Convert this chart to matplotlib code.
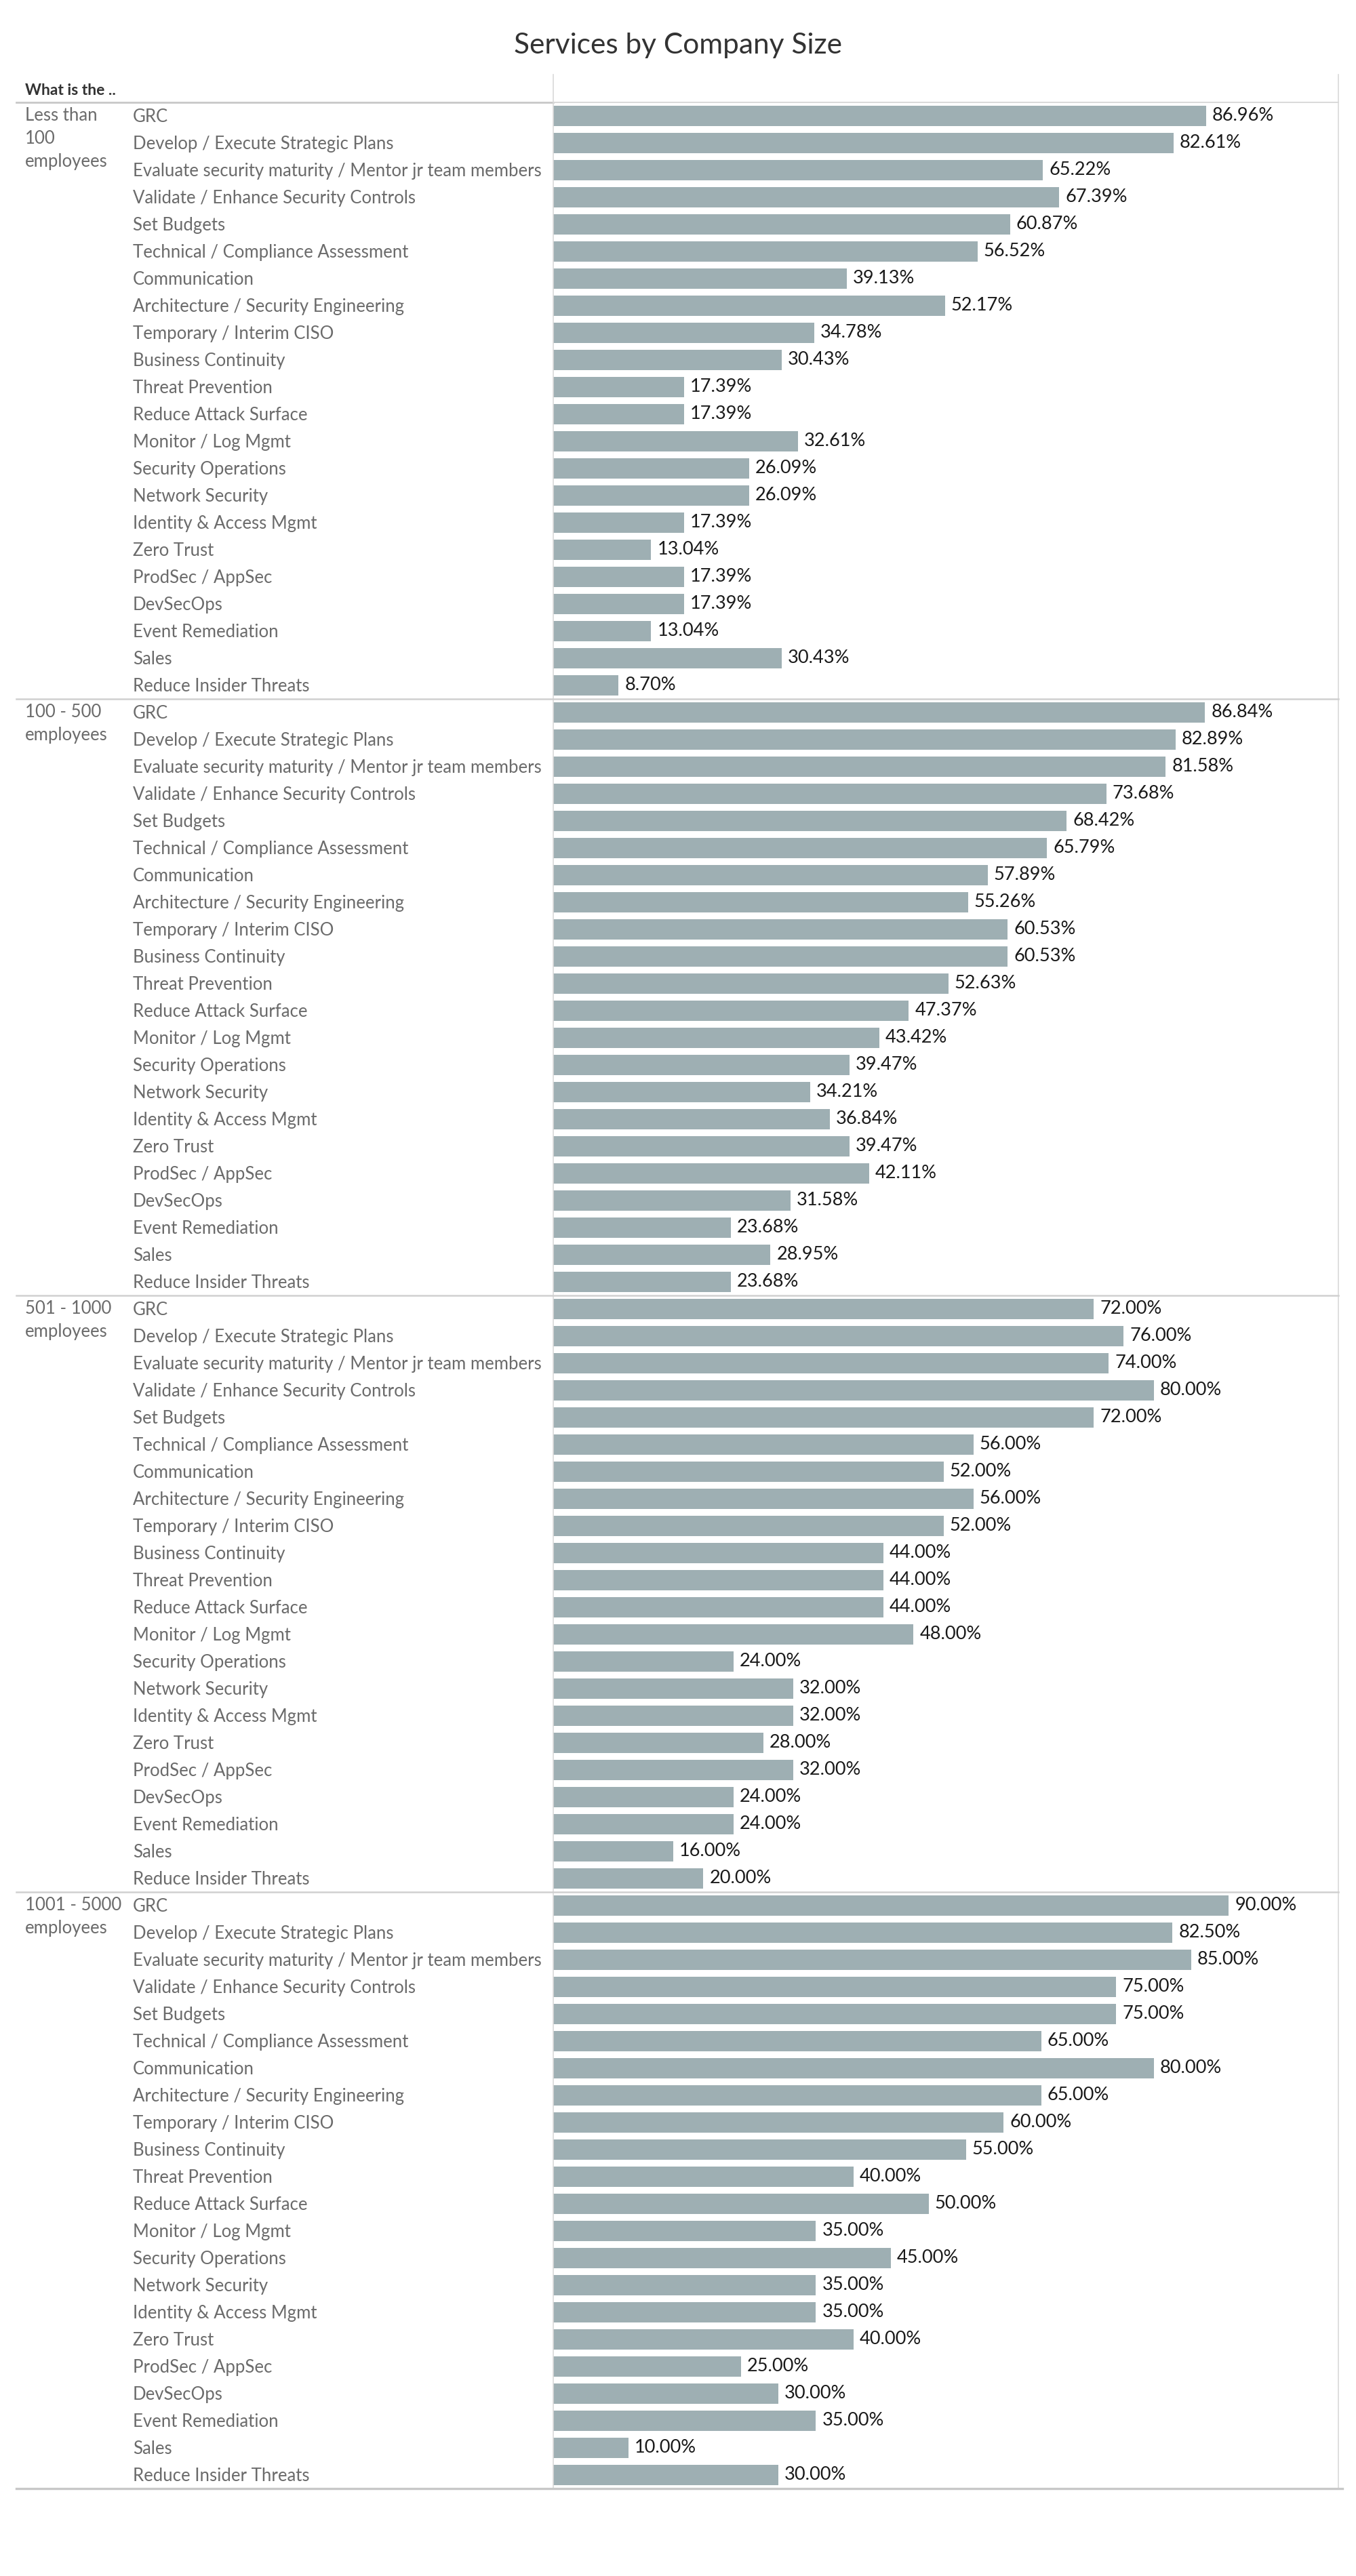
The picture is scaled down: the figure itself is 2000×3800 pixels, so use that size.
import matplotlib
matplotlib.use("Agg")
import matplotlib.pyplot as plt
from matplotlib.lines import Line2D
import numpy as np

services = [
    "GRC",
    "Develop / Execute Strategic Plans",
    "Evaluate security maturity / Mentor jr team members",
    "Validate / Enhance Security Controls",
    "Set Budgets",
    "Technical / Compliance Assessment",
    "Communication",
    "Architecture / Security Engineering",
    "Temporary / Interim CISO",
    "Business Continuity",
    "Threat Prevention",
    "Reduce Attack Surface",
    "Monitor / Log Mgmt",
    "Security Operations",
    "Network Security",
    "Identity & Access Mgmt",
    "Zero Trust",
    "ProdSec / AppSec",
    "DevSecOps",
    "Event Remediation",
    "Sales",
    "Reduce Insider Threats",
]

groups = [
    "Less than\n100\nemployees",
    "100 - 500\nemployees",
    "501 - 1000\nemployees",
    "1001 - 5000\nemployees",
]

vals_lt100 = [86.96, 82.61, 65.22, 67.39, 60.87, 56.52, 39.13, 52.17, 34.78, 30.43, 17.39,
              17.39, 32.61, 26.09, 26.09, 17.39, 13.04, 17.39, 17.39, 13.04, 30.43, 8.70]
vals_100_500 = [86.84, 82.89, 81.58, 73.68, 68.42, 65.79, 57.89, 55.26, 60.53, 60.53, 52.63,
                47.37, 43.42, 39.47, 34.21, 36.84, 39.47, 42.11, 31.58, 23.68, 28.95, 23.68]
vals_501_1000 = [72.00, 76.00, 74.00, 80.00, 72.00, 56.00, 52.00, 56.00, 52.00, 44.00, 44.00,
                 44.00, 48.00, 24.00, 32.00, 32.00, 28.00, 32.00, 24.00, 24.00, 16.00, 20.00]
vals_1001_5000 = [90.00, 82.50, 85.00, 75.00, 75.00, 65.00, 80.00, 65.00, 60.00, 55.00, 40.00,
                  50.00, 35.00, 45.00, 35.00, 35.00, 40.00, 25.00, 30.00, 35.00, 10.00, 30.00]

group_values = [vals_lt100, vals_100_500, vals_501_1000, vals_1001_5000]

title = "Services by Company Size"
header = "What is the .."

plt.rcParams['font.family'] = ['Lato', 'DejaVu Sans']

W, H = 2000, 3800
fig = plt.figure(figsize=(20, 38), dpi=100)
fig.patch.set_facecolor("white")


def rect(l, t, r, b):
    return [l / W, 1 - b / H, (r - l) / W, (b - t) / H]


def hline(y, x0, x1, color, lw):
    fig.add_artist(Line2D([x0 / W, x1 / W], [1 - y / H, 1 - y / H],
                          transform=fig.transFigure, color=color, lw=lw))


def vline(x, y0, y1, color, lw):
    fig.add_artist(Line2D([x / W, x / W], [1 - y0 / H, 1 - y1 / H],
                          transform=fig.transFigure, color=color, lw=lw))


TOP, BOT = 151, 3671
DIV, RIGHT = 816, 1974
n_s = len(services)
n = n_s * len(groups)

values = np.concatenate([np.array(v) for v in group_values]) / 100.0
ypos = np.arange(n)

ax = fig.add_axes(rect(DIV, TOP, RIGHT, BOT))
ax.barh(ypos, values, height=0.75, color="#9eafb3")
ax.set_ylim(n - 0.5, -0.5)
ax.set_xlim(0, 1.046)
ax.axis("off")
for y, v in zip(ypos, values):
    ax.annotate(f"{v * 100:.2f}%", (v, y), xytext=(9, 0), textcoords="offset pixels",
                va="center", ha="left", fontsize=19.5, color="#1a1a1a")

lax = fig.add_axes(rect(0, TOP, DIV, BOT))
lax.set_ylim(n - 0.5, -0.5)
lax.set_xlim(0, DIV)
lax.axis("off")
for gi, g in enumerate(groups):
    for si, s in enumerate(services):
        lax.text(196, gi * n_s + si + 0.03, s, va="center", ha="left", fontsize=18.5,
                 color="#6b6b6b")
    lax.text(37, gi * n_s - 0.32, g, va="top", ha="left", fontsize=18.5, color="#6b6b6b",
             linespacing=1.45)

# title and header
fig.text(0.5, 1 - 67 / H, title, ha="center", va="center", fontsize=30.5, color="#333333")
fig.text(37 / W, 1 - 133 / H, header, ha="left", va="center", fontsize=16.5,
         fontweight="bold", color="#333333")

# grid lines
hline(TOP, 24, DIV, "#c8c8c8", 2.0)
hline(TOP, DIV, RIGHT, "#d9d9d9", 1.4)
vline(DIV, 110, BOT, "#d9d9d9", 1.2)
vline(RIGHT, 110, BOT, "#d9d9d9", 1.2)
row_px = (BOT - TOP) / n
for k in range(1, len(groups)):
    yk = TOP + k * n_s * row_px
    hline(yk, 24, RIGHT, "#d0d0d0", 1.8)
hline(BOT, 24, RIGHT + 6, "#c8c8c8", 2.4)

fig.savefig("out.png", dpi=100, facecolor="white")
